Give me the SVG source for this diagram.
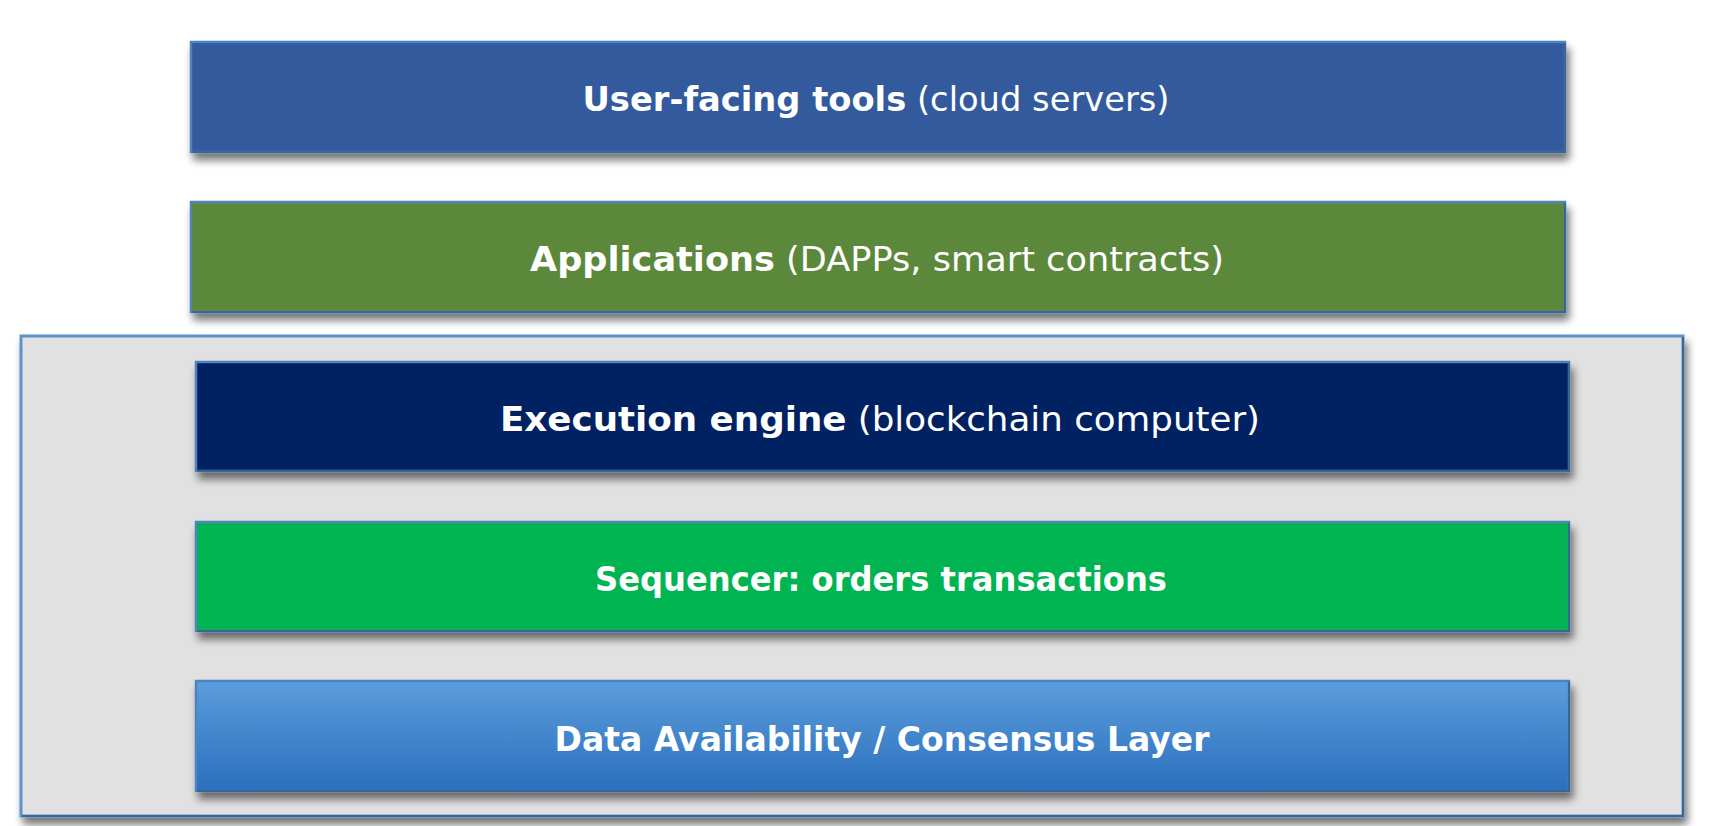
<svg xmlns="http://www.w3.org/2000/svg" width="1714" height="826" viewBox="0 0 1714 826">
<defs>
<filter id="sh" x="-5%" y="-20%" width="110%" height="150%">
<feGaussianBlur in="SourceAlpha" stdDeviation="4"/>
<feOffset dx="3" dy="7" result="b"/>
<feComponentTransfer><feFuncA type="linear" slope="0.55"/></feComponentTransfer>
<feMerge><feMergeNode/><feMergeNode in="SourceGraphic"/></feMerge>
</filter>
<linearGradient id="gda" x1="0" y1="0" x2="0" y2="1">
<stop offset="0" stop-color="#5b9ddc"/>
<stop offset="1" stop-color="#2a6fbd"/>
</linearGradient>
</defs>
<style>
.box{stroke:#4f83c0;stroke-width:2.5;filter:url(#sh)}
.edge{fill:none;stroke:#3c6592;stroke-width:2}
.t{font-family:"DejaVu Sans","Liberation Sans",Arial,sans-serif;font-size:34px;fill:#fff;text-anchor:middle}
.b{font-weight:bold}
</style>
<rect width="1714" height="826" fill="#fff"/>
<g id="container">
<rect x="21" y="336" width="1662" height="480" fill="#e1e1e1" stroke="#5b93cc" stroke-width="3" filter="url(#sh)"/>
<path class="edge" d="M1683 337 V816 H22"/>
</g>
<g id="user-tools">
<rect class="box" x="191" y="42" width="1374" height="110" fill="#335a9d"/>
<path class="edge" d="M1565 43 V152 H192"/>
<text class="t" x="876" y="111" textLength="587" lengthAdjust="spacingAndGlyphs"><tspan class="b">User-facing tools</tspan> (cloud servers)</text>
</g>
<g id="applications">
<rect class="box" x="191" y="202" width="1374" height="110" fill="#5b883b"/>
<path class="edge" d="M1565 203 V312 H192"/>
<text class="t" x="877" y="271" textLength="694" lengthAdjust="spacingAndGlyphs"><tspan class="b">Applications</tspan> (DAPPs, smart contracts)</text>
</g>
<g id="execution">
<rect class="box" x="196" y="362" width="1373" height="109" fill="#022062"/>
<path class="edge" d="M1569 363 V471 H197"/>
<text class="t" x="880" y="431" textLength="760" lengthAdjust="spacingAndGlyphs"><tspan class="b">Execution engine</tspan> (blockchain computer)</text>
</g>
<g id="sequencer">
<rect class="box" x="196" y="522" width="1373" height="109" fill="#00b451"/>
<path class="edge" d="M1569 523 V631 H197"/>
<text class="t b" x="881" y="591" textLength="572" lengthAdjust="spacingAndGlyphs">Sequencer: orders transactions</text>
</g>
<g id="data-availability">
<rect class="box" x="196" y="681" width="1373" height="110" fill="url(#gda)"/>
<path class="edge" d="M1569 682 V791 H197"/>
<text class="t b" x="882" y="751" textLength="655" lengthAdjust="spacingAndGlyphs">Data Availability / Consensus Layer</text>
</g>
<g id="connectors"/>
</svg>
